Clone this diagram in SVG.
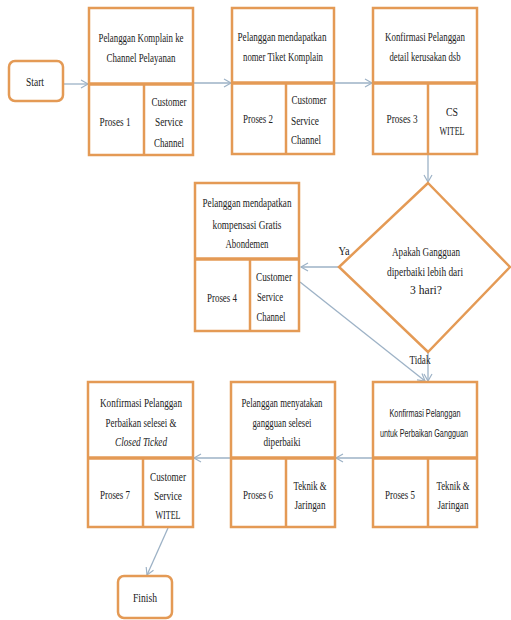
<svg xmlns="http://www.w3.org/2000/svg" width="511" height="620" viewBox="0 0 511 620">
<style>
.b{fill:#fff;stroke:#E49A55;stroke-width:2.5}
.d{stroke:#E49A55;stroke-width:3.5;fill:none}
.v{stroke:#E49A55;stroke-width:2.5;fill:none}
.c{stroke:#9DB2C6;stroke-width:1.3;fill:none}
text{font-family:"Liberation Serif",serif;font-size:13.5px;fill:#222;text-anchor:middle}
.s{font-family:"Liberation Sans",sans-serif;font-size:10.5px}
</style>
<defs>
<marker id="a" markerWidth="10" markerHeight="10" refX="8" refY="5" orient="auto" markerUnits="userSpaceOnUse">
<polyline points="1,1 8,5 1,9" fill="none" stroke="#9DB2C6" stroke-width="1.2"/>
</marker>
</defs>
<rect width="511" height="620" fill="#fff"/>
<g id="connectors">
<line class="c" x1="63" y1="84" x2="88" y2="84" marker-end="url(#a)"/>
<line class="c" x1="194" y1="83" x2="231" y2="83" marker-end="url(#a)"/>
<line class="c" x1="335" y1="83" x2="372" y2="83" marker-end="url(#a)"/>
<line class="c" x1="428" y1="155" x2="428" y2="182" marker-end="url(#a)"/>
<line class="c" x1="339" y1="267" x2="301" y2="267" marker-end="url(#a)"/>
<line class="c" x1="300" y1="282" x2="425" y2="381" marker-end="url(#a)"/>
<line class="c" x1="428" y1="352" x2="428" y2="381" marker-end="url(#a)"/>
<line class="c" x1="372" y1="458" x2="336" y2="458" marker-end="url(#a)"/>
<line class="c" x1="230" y1="458" x2="194" y2="458" marker-end="url(#a)"/>
<line class="c" x1="168" y1="528" x2="147" y2="575" marker-end="url(#a)"/>
<text x="344" y="255" textLength="11" lengthAdjust="spacingAndGlyphs">Ya</text>
<text x="420" y="364" textLength="21" lengthAdjust="spacingAndGlyphs">Tidak</text>
</g>
<g id="start">
<rect class="b" x="9" y="61" width="54" height="40" rx="6"/>
<text x="35" y="86" textLength="18" lengthAdjust="spacingAndGlyphs">Start</text>
</g>
<g id="p1">
<rect class="b" x="89" y="8" width="104" height="147"/>
<line class="d" x1="89" y1="84" x2="193" y2="84"/>
<line class="v" x1="144" y1="84" x2="144" y2="155"/>
<text x="141" y="42" textLength="85" lengthAdjust="spacingAndGlyphs">Pelanggan Komplain ke</text>
<text x="141" y="62" textLength="69" lengthAdjust="spacingAndGlyphs">Channel Pelayanan</text>
<text x="115" y="126" textLength="31" lengthAdjust="spacingAndGlyphs">Proses 1</text>
<text x="169" y="106" textLength="35" lengthAdjust="spacingAndGlyphs">Customer</text>
<text x="169" y="126" textLength="28" lengthAdjust="spacingAndGlyphs">Service</text>
<text x="169" y="147" textLength="30" lengthAdjust="spacingAndGlyphs">Channel</text>
</g>
<g id="p2">
<rect class="b" x="232" y="8" width="102" height="146"/>
<line class="d" x1="232" y1="83" x2="334" y2="83"/>
<line class="v" x1="286" y1="83" x2="286" y2="154"/>
<text x="282" y="41" textLength="89" lengthAdjust="spacingAndGlyphs">Pelanggan mendapatkan</text>
<text x="283" y="61" textLength="80" lengthAdjust="spacingAndGlyphs">nomer Tiket Komplain</text>
<text x="258" y="123" textLength="30" lengthAdjust="spacingAndGlyphs">Proses 2</text>
<text x="309" y="104" textLength="35" lengthAdjust="spacingAndGlyphs">Customer</text>
<text x="305" y="125" textLength="28" lengthAdjust="spacingAndGlyphs">Service</text>
<text x="306" y="144" textLength="30" lengthAdjust="spacingAndGlyphs">Channel</text>
</g>
<g id="p3">
<rect class="b" x="373" y="8" width="104" height="146"/>
<line class="d" x1="373" y1="83" x2="477" y2="83"/>
<line class="v" x1="428" y1="83" x2="428" y2="154"/>
<text x="425" y="41" textLength="80" lengthAdjust="spacingAndGlyphs">Konfirmasi Pelanggan</text>
<text x="425" y="61" textLength="71" lengthAdjust="spacingAndGlyphs">detail kerusakan dsb</text>
<text x="402" y="123" textLength="31" lengthAdjust="spacingAndGlyphs">Proses 3</text>
<text x="452" y="116" textLength="12" lengthAdjust="spacingAndGlyphs">CS</text>
<text x="452" y="135" textLength="25" lengthAdjust="spacingAndGlyphs">WITEL</text>
</g>
<g id="decision">
<polygon class="b" points="428,183 510,267 428,352 339,267"/>
<text x="426" y="256" textLength="68" lengthAdjust="spacingAndGlyphs">Apakah Gangguan</text>
<text x="425" y="276" textLength="76" lengthAdjust="spacingAndGlyphs">diperbaiki lebih dari</text>
<text x="426" y="294" textLength="32" lengthAdjust="spacingAndGlyphs">3 hari?</text>
</g>
<g id="p4">
<rect class="b" x="195" y="183" width="104" height="148"/>
<line class="d" x1="195" y1="259" x2="299" y2="259"/>
<line class="v" x1="250" y1="259" x2="250" y2="331"/>
<text x="247" y="207" textLength="89" lengthAdjust="spacingAndGlyphs">Pelanggan mendapatkan</text>
<text x="247" y="229" textLength="69" lengthAdjust="spacingAndGlyphs">kompensasi Gratis</text>
<text x="247" y="248" textLength="43" lengthAdjust="spacingAndGlyphs">Abondemen</text>
<text x="222" y="302" textLength="30" lengthAdjust="spacingAndGlyphs">Proses 4</text>
<text x="274" y="281" textLength="36" lengthAdjust="spacingAndGlyphs">Customer</text>
<text x="270" y="301" textLength="26" lengthAdjust="spacingAndGlyphs">Service</text>
<text x="271" y="321" textLength="29" lengthAdjust="spacingAndGlyphs">Channel</text>
</g>
<g id="p5">
<rect class="b" x="373" y="382" width="104" height="145"/>
<line class="d" x1="373" y1="458" x2="477" y2="458"/>
<line class="v" x1="428" y1="458" x2="428" y2="527"/>
<text class="s" x="425" y="417" textLength="71" lengthAdjust="spacingAndGlyphs">Konfirmasi Pelanggan</text>
<text class="s" x="424" y="437" textLength="88" lengthAdjust="spacingAndGlyphs">untuk Perbaikan Gangguan</text>
<text x="400" y="499" textLength="30" lengthAdjust="spacingAndGlyphs">Proses 5</text>
<text x="453" y="490" textLength="33" lengthAdjust="spacingAndGlyphs">Teknik &amp;</text>
<text x="453" y="509" textLength="31" lengthAdjust="spacingAndGlyphs">Jaringan</text>
</g>
<g id="p6">
<rect class="b" x="231" y="382" width="104" height="145"/>
<line class="d" x1="231" y1="458" x2="335" y2="458"/>
<line class="v" x1="286" y1="458" x2="286" y2="527"/>
<text x="282" y="407" textLength="81" lengthAdjust="spacingAndGlyphs">Pelanggan menyatakan</text>
<text x="282" y="427" textLength="59" lengthAdjust="spacingAndGlyphs">gangguan selesei</text>
<text x="282" y="446" textLength="37" lengthAdjust="spacingAndGlyphs">diperbaiki</text>
<text x="258" y="499" textLength="30" lengthAdjust="spacingAndGlyphs">Proses 6</text>
<text x="310" y="490" textLength="33" lengthAdjust="spacingAndGlyphs">Teknik &amp;</text>
<text x="310" y="509" textLength="31" lengthAdjust="spacingAndGlyphs">Jaringan</text>
</g>
<g id="p7">
<rect class="b" x="88" y="382" width="105" height="145"/>
<line class="d" x1="88" y1="458" x2="193" y2="458"/>
<line class="v" x1="143" y1="458" x2="143" y2="527"/>
<text x="141" y="407" textLength="82" lengthAdjust="spacingAndGlyphs">Konfirmasi Pelanggan</text>
<text x="141" y="427" textLength="71" lengthAdjust="spacingAndGlyphs">Perbaikan selesei &amp;</text>
<text x="141" y="446" font-style="italic" textLength="52" lengthAdjust="spacingAndGlyphs">Closed Ticked</text>
<text x="115" y="499" textLength="30" lengthAdjust="spacingAndGlyphs">Proses 7</text>
<text x="168" y="481" textLength="36" lengthAdjust="spacingAndGlyphs">Customer</text>
<text x="168" y="500" textLength="28" lengthAdjust="spacingAndGlyphs">Service</text>
<text x="168" y="519" textLength="25" lengthAdjust="spacingAndGlyphs">WITEL</text>
</g>
<g id="finish">
<rect class="b" x="118" y="576" width="54" height="42" rx="6"/>
<text x="145" y="602" textLength="24" lengthAdjust="spacingAndGlyphs">Finish</text>
</g>
</svg>
